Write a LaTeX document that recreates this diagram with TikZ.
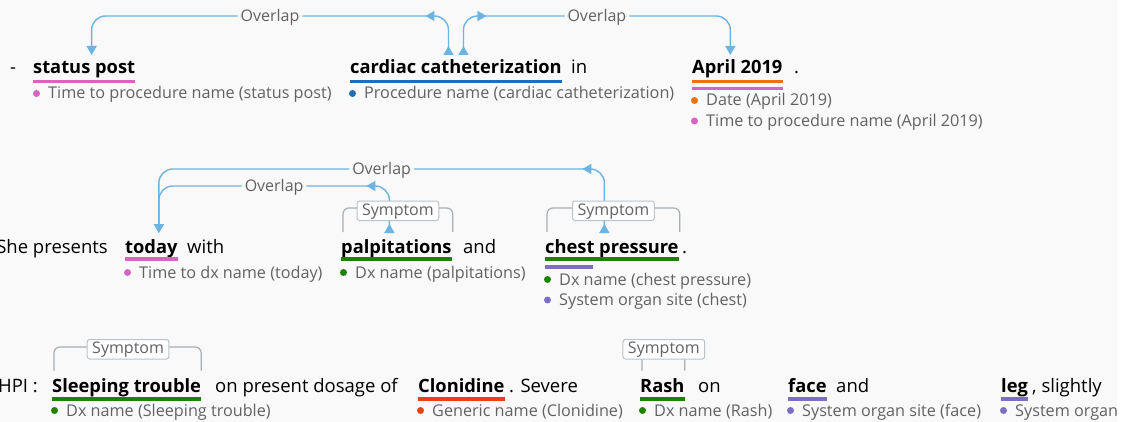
\documentclass[tikz,border=0pt]{standalone}
\usepackage{fontspec}
\setmainfont{Open Sans}
\usetikzlibrary{arrows.meta,decorations.markings,calc}
\definecolor{bg}{RGB}{249,249,249}
\definecolor{relblue}{RGB}{108,180,226}
\definecolor{labgray}{RGB}{98,98,98}
\definecolor{brgray}{RGB}{165,175,180}
\definecolor{boxgray}{RGB}{185,195,200}
\definecolor{pinkc}{RGB}{215,100,195}
\definecolor{bluec}{RGB}{30,110,185}
\definecolor{orangec}{RGB}{236,114,17}
\definecolor{greenc}{RGB}{29,129,2}
\definecolor{redc}{RGB}{232,64,20}
\definecolor{purplec}{RGB}{125,110,195}
\newcommand\labdot[5]{%
  \node[lab] (#1) at (#3,#4) {#5};
  \fill[#2] ($(#1.base west)+(-11.5,-5.5)$) circle (3.5pt);
}
\newcommand\uline[3]{%
  \draw[ul,#2] ($(#1.base west)+(0,#3)$) -- ($(#1.base east)+(0,#3)$);
}
\tikzset{
  ent/.style={font=\fontsize{18.3}{22}\selectfont\bfseries, text=black, inner sep=0pt, text height=13pt, text depth=4pt, anchor=base west},
  txt/.style={font=\fontsize{18.5}{22}\selectfont, text=black, inner sep=0pt, anchor=base west},
  lab/.style={font=\fontsize{16.2}{19}\selectfont, text=labgray, inner sep=0pt, anchor=base west},
  ul/.style={line width=3.5pt},
  tipA/.tip={Triangle[width=10pt,length=9pt]},
  rel/.style={draw=relblue, line width=1.4pt, rounded corners=14pt, -tipA,
    decoration={markings, mark=at position 9pt with {\arrow{tipA}}, mark=at position #1 with {\arrow{tipA}}},
    postaction={decorate}},
  ovl/.style={fill=bg, text=labgray, font=\fontsize{16}{19}\selectfont, inner xsep=3pt, inner ysep=0pt, text height=11.4pt, text depth=0pt},
  symbox/.style={draw=boxgray, fill=white, rounded corners=2.5pt, font=\fontsize{16}{19}\selectfont, text=labgray, text height=11.5pt, text depth=3pt, inner xsep=5pt, inner ysep=2.5pt, line width=1pt, anchor=base},
  bracket/.style={draw=brgray, line width=1.2pt, rounded corners=6pt}
}
\begin{document}
\begin{tikzpicture}[x=1pt,y=-1pt]
\useasboundingbox (0,0) rectangle (1131,422);
\fill[bg] (0,0) rectangle (1117,422);
% ---------- row 1
\node[txt] (dash) at (10,74) {-};
\node[ent] (sp) at (33,74) {status post};
\node[ent] (cc) at (350,74) {cardiac catheterization};
\node[txt] (in) at (571,74) {in};
\node[ent] (ap) at (692,74) {April 2019};
\node[txt] (dot1) at (794,74) {.};
\uline{sp}{pinkc}{7.5}
\uline{cc}{bluec}{7.5}
\uline{ap}{orangec}{7.5}
\uline{ap}{pinkc}{14.5}
\labdot{spl}{pinkc}{48}{99}{Time to procedure name (status post)}
\labdot{ccl}{bluec}{364}{99}{Procedure name (cardiac catheterization)}
\labdot{apl1}{orangec}{706}{106}{Date (April 2019)}
\labdot{apl2}{pinkc}{706}{126.5}{Time to procedure name (April 2019)}
% ---------- row 2
\node[txt, anchor=base east] (she) at (108,253) {She presents};
\node[ent] (td) at (125,253) {today};
\node[txt] (with) at (187,253) {with};
\node[ent] (pl) at (341,253) {palpitations};
\node[txt] (and1) at (463,253) {and};
\node[ent] (ch) at (545,253) {chest pressure};
\node[txt] (dot2) at (682,253) {.};
\uline{td}{pinkc}{6}
\uline{pl}{greenc}{6}
\uline{ch}{greenc}{6}
\draw[ul,purplec] ($(ch.base west)+(0,14)$) -- ($(ch.base west)+(48,14)$);
\labdot{tdl}{pinkc}{139}{278}{Time to dx name (today)}
\labdot{pll}{greenc}{355}{278}{Dx name (palpitations)}
\labdot{chl1}{greenc}{559}{285}{Dx name (chest pressure)}
\labdot{chl2}{purplec}{559}{305.5}{System organ site (chest)}
% ---------- row 3
\node[txt, anchor=base east] (hpi) at (38,392) {HPI :};
\node[ent] (sl) at (52,392) {Sleeping trouble};
\node[txt] (onp) at (215,392) {on present dosage of};
\node[ent] (cl) at (418,392) {Clonidine};
\node[txt] (sev) at (509,392) {. Severe};
\node[ent] (ra) at (640,392) {Rash};
\node[txt] (on2) at (698,392) {on};
\node[ent] (fa) at (788,392) {face};
\node[txt] (and2) at (836,392) {and};
\node[ent] (lg) at (1001,392) {leg};
\node[txt] (sli) at (1032,392) {, slightly};
\uline{sl}{greenc}{7}
\uline{cl}{redc}{7}
\uline{ra}{greenc}{7}
\uline{fa}{purplec}{7}
\uline{lg}{purplec}{7}
\labdot{sll}{greenc}{66}{416}{Dx name (Sleeping trouble)}
\labdot{cll}{redc}{432}{416}{Generic name (Clonidine)}
\labdot{ral}{greenc}{654}{416}{Dx name (Rash)}
\labdot{fal}{purplec}{802}{416}{System organ site (face)}
\labdot{lgl}{purplec}{1015}{416}{System organ}
% ---------- relation anchors
\coordinate (sp-i) at ($(sp.base)+(7.5,-19)$);
\coordinate (cc-o1) at ($(cc.base)+(-7.5,-19)$);
\coordinate (cc-o2) at ($(cc.base)+(7.5,-19)$);
\coordinate (ap-i) at ($(ap.base)+(-7,-19)$);
\coordinate (td-i) at ($(td.base)+(7.5,-20)$);
\coordinate (pl-o) at ($(pl.base)+(-7,-20)$);
\coordinate (ch-o) at ($(ch.base)+(-7.5,-20)$);
\coordinate (h1) at (0,16);
\coordinate (h2) at (0,169);
\coordinate (h3) at (0,186);
% ---------- relations
\draw[rel=56pt] (cc-o1) |- node[ovl,pos=0.75] {Overlap} (sp-i |- h1) -- (sp-i);
\draw[rel=56pt] (cc-o2) |- node[ovl,pos=0.75] {Overlap} (ap-i |- h1) -- (ap-i);
\draw[rel=64pt] (pl-o) |- node[ovl,pos=0.75] {Overlap} (td-i |- h3) -- (td-i);
\draw[rel=80pt] (ch-o) |- node[ovl,pos=0.75] {Overlap} (td-i |- h2) -- (td-i);
% ---------- symptom brackets
\draw[bracket] ($(pl.base west)+(2,-21)$) |- ($(pl.base east)+(1,-45)$) -- ($(pl.base east)+(1,-21)$);
\node[symbox] (pl-s) at ($(pl.base)+(1.5,-38)$) {Symptom};
\draw[bracket] ($(ch.base west)+(2,-21)$) |- ($(ch.base east)+(1,-45)$) -- ($(ch.base east)+(1,-21)$);
\node[symbox] (ch-s) at ($(ch.base)+(1.5,-38)$) {Symptom};
\draw[bracket] ($(sl.base west)+(2,-21.5)$) |- ($(sl.base east)+(0,-45)$) -- ($(sl.base east)+(0,-21.5)$);
\node[symbox] (sl-s) at ($(sl.base)+(1.5,-38.5)$) {Symptom};
\draw[bracket] ($(ra.base west)+(2,-21.5)$) |- ($(ra.base east)+(0,-45)$) -- ($(ra.base east)+(0,-21.5)$);
\node[symbox] (ra-s) at ($(ra.base)+(1.5,-38.5)$) {Symptom};
% ---------- right white strip
\fill[white] (1117,0) rectangle (1131,422);
\end{tikzpicture}
\end{document}
